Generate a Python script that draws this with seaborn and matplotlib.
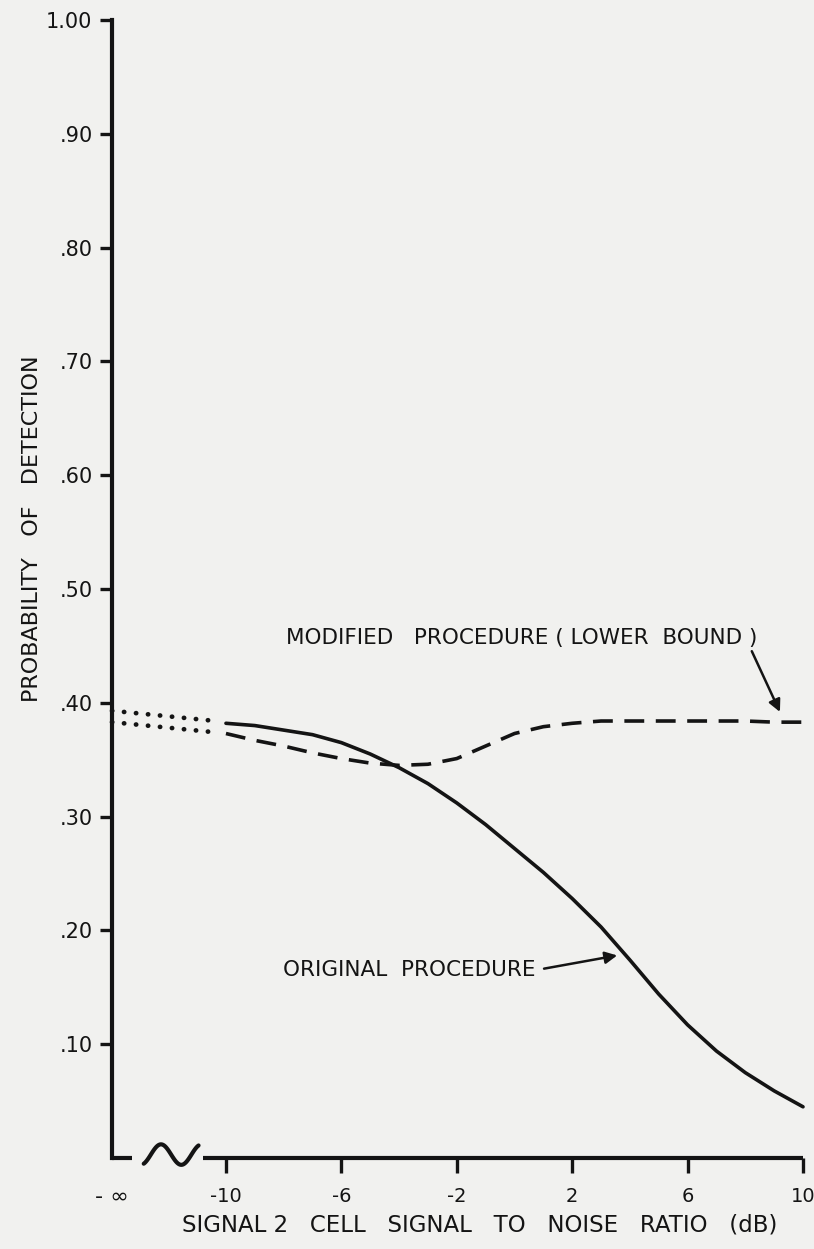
import numpy as np
import pandas as pd
import matplotlib
matplotlib.use("Agg")
import matplotlib.pyplot as plt
import seaborn as sns

# ---------------- data ----------------
snr_db = [-10, -9, -8, -7, -6, -5, -4, -3, -2, -1, 0, 1, 2, 3, 4, 5, 6, 7, 8, 9, 10]
original = [0.382, 0.380, 0.376, 0.372, 0.365, 0.355, 0.343, 0.329, 0.312, 0.293,
            0.272, 0.251, 0.228, 0.203, 0.174, 0.144, 0.117, 0.094, 0.075, 0.059, 0.045]
modified_lower = [0.373, 0.367, 0.362, 0.356, 0.351, 0.347, 0.345, 0.346, 0.351, 0.362,
                  0.373, 0.379, 0.382, 0.384, 0.384, 0.384, 0.384, 0.384, 0.384, 0.383, 0.383]

neg_inf_pos = -13.95          # position used for "-inf" on the x axis
dot_x = [neg_inf_pos, -10.35]
dot_original = [0.393, 0.384]
dot_modified = [0.383, 0.374]

x_ticks = [-10, -6, -2, 2, 6, 10]
x_tick_labels = ["-10", "-6", "-2", "2", "6", "10"]
y_ticks = [0.10, 0.20, 0.30, 0.40, 0.50, 0.60, 0.70, 0.80, 0.90, 1.00]
y_tick_labels = [".10", ".20", ".30", ".40", ".50", ".60", ".70", ".80", ".90", "1.00"]

df = pd.DataFrame({"snr": snr_db, "original": original, "modified": modified_lower})
df_dot = pd.DataFrame({"snr": dot_x, "original": dot_original, "modified": dot_modified})

# ---------------- figure ----------------
sns.set_theme(style="white")
plt.rcParams["font.family"] = ["DejaVu Sans"]
ink = "#141414"
bg = "#f1f1ef"

W, H = 814, 1249
fig = plt.figure(figsize=(W / 100, H / 100), dpi=100, facecolor=bg)
ax = fig.add_axes([112 / W, (H - 1158) / H, (803 - 112) / W, (1158 - 20) / H])
ax.set_facecolor(bg)

sns.lineplot(data=df, x="snr", y="original", ax=ax, color=ink, lw=2.6, clip_on=False)
sns.lineplot(data=df, x="snr", y="modified", ax=ax, color=ink, lw=2.6, clip_on=False,
             linestyle=(0, (5.5, 3.2)))
for col in ["original", "modified"]:
    sns.lineplot(data=df_dot, x="snr", y=col, ax=ax, color=ink, lw=3.4, clip_on=False,
                 linestyle=(0, (0.05, 2.5)), dash_capstyle="round", solid_capstyle="round")

ax.set_xlim(neg_inf_pos, 10)
ax.set_ylim(0, 1.0)

for s in ["top", "right", "bottom"]:
    ax.spines[s].set_visible(False)
ax.spines["left"].set_linewidth(3)
ax.spines["left"].set_color(ink)

# broken bottom axis with a "~" break mark
ax.plot([neg_inf_pos, -13.25], [0, 0], color=ink, lw=3, clip_on=False, solid_capstyle="butt")
ax.plot([-10.78, 10], [0, 0], color=ink, lw=3, clip_on=False, solid_capstyle="butt")
t = np.linspace(-0.35 * np.pi, 2.35 * np.pi, 80)
ax.plot(-12.85 + (t + 0.35 * np.pi) / (2.7 * np.pi) * 1.9, 0.003 + 0.0090 * np.sin(t),
        color=ink, lw=3.0, clip_on=False)

ax.set_xticks([neg_inf_pos] + x_ticks)
ax.set_xticklabels(["- \u221e"] + x_tick_labels)
ax.set_yticks(y_ticks)
ax.set_yticklabels(y_tick_labels)
ax.tick_params(axis="x", direction="out", length=11, width=2.4, color=ink, pad=10,
               labelsize=14, labelcolor=ink, bottom=True)
ax.tick_params(axis="y", direction="out", length=9, width=2.4, color=ink, pad=5,
               labelsize=15, labelcolor=ink, left=True)
ax.xaxis.get_major_ticks()[0].tick1line.set_visible(False)
ax.get_xticklabels()[0].set_fontsize(16)
ax.set_xlabel("")
ax.set_ylabel("")

fig.text(32 / W, 1 - 529 / H, "PROBABILITY   OF   DETECTION", rotation=90,
         ha="center", va="center", fontsize=16, color=ink)
fig.text(480 / W, 1 - 1225 / H, "SIGNAL 2   CELL   SIGNAL   TO   NOISE   RATIO   (dB)",
         ha="center", va="center", fontsize=16.5, color=ink)

ax.annotate("MODIFIED   PROCEDURE ( LOWER  BOUND )", xy=(9.2, 0.392), xytext=(-7.92, 0.457),
            fontsize=15.5, color=ink, va="center", ha="left",
            arrowprops=dict(arrowstyle="-|>", color=ink, lw=1.8, mutation_scale=18,
                            shrinkA=0, shrinkB=0, relpos=(0.985, 0.0)))
ax.annotate("ORIGINAL  PROCEDURE", xy=(3.56, 0.178), xytext=(-8.03, 0.165),
            fontsize=15.5, color=ink, va="center", ha="left",
            arrowprops=dict(arrowstyle="-|>", color=ink, lw=1.8, mutation_scale=18,
                            shrinkA=4, shrinkB=0, relpos=(1.0, 0.5)))

fig.savefig("out.png", dpi=100, facecolor=bg)
